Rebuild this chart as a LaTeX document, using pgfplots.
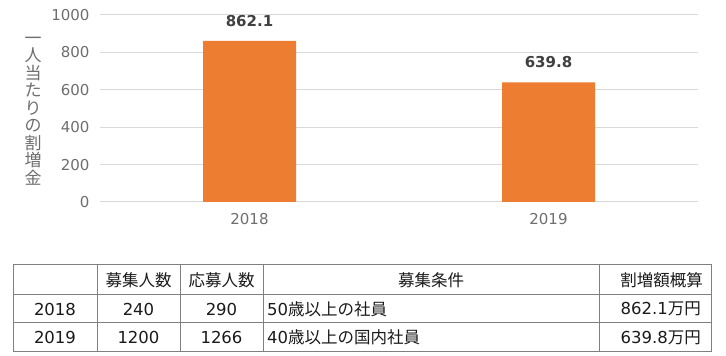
\documentclass[border=0pt]{standalone}
\usepackage{fontspec}
\setmainfont{DejaVu Sans}
\newfontfamily\jp{Noto Sans CJK JP}
\usepackage{pgfplots}
\pgfplotsset{compat=1.18}
\definecolor{barc}{HTML}{ED7D31}
\definecolor{gridc}{HTML}{D9D9D9}
\definecolor{tickc}{HTML}{6E6E6E}
\definecolor{labc}{HTML}{404040}
\definecolor{tablec}{HTML}{808080}
\definecolor{txt}{HTML}{1A1A1A}
\begin{document}
\begin{tikzpicture}[x=1pt,y=1pt]
\useasboundingbox (0,0) rectangle (726,356);
\begin{axis}[
  at={(100pt,154pt)}, anchor=south west,
  scale only axis, width=598pt, height=187pt,
  xmin=-0.5, xmax=1.5, ymin=0, ymax=1000,
  axis line style={draw=none},
  ymajorgrids, grid style={gridc, line width=1pt},
  major tick length=0pt,
  xtick={0,1}, xticklabels={2018,2019},
  ytick={0,200,400,600,800,1000},
  /pgf/number format/assume math mode=true,
  /pgf/number format/1000 sep={},
  tick label style={font=\fontsize{15}{17}\selectfont, text=tickc},
  yticklabel style={xshift=-7pt},
  xticklabel style={yshift=-8pt},
  clip=false,
  ybar, bar width=93pt,
  nodes near coords={\pgfmathprintnumber[fixed,precision=1,fixed zerofill]{\pgfplotspointmeta}},
  nodes near coords style={font=\bfseries\fontsize{15}{17}\selectfont, text=labc, yshift=11pt},
]
\addplot[fill=barc, draw=none] coordinates {(0,862.1) (1,639.8)};
\end{axis}
\node[align=center, font=\jp\fontsize{17}{17.5}\selectfont, text=tickc] at (33,245)
  {一\\人\\当\\た\\り\\の\\割\\増\\金};
% table
\draw[tablec, line width=1pt] (13,4) rectangle (711,91);
\draw[tablec, line width=1pt] (13,61) -- (711,61) (13,33) -- (711,33)
  (97,4) -- (97,91) (180,4) -- (180,91) (263,4) -- (263,91) (599,4) -- (599,91);
\begin{scope}[every node/.style={font=\fontsize{16.5}{18}\selectfont, text=txt, inner sep=0pt}]
\node at (138.5,76) {\jp 募集人数};
\node at (221.5,76) {\jp 応募人数};
\node at (431,76) {\jp 募集条件};
\node[anchor=east] at (703,76) {\jp 割増額概算};
\node at (55,47) {2018};
\node at (138.5,47) {240};
\node at (221.5,47) {290};
\node[anchor=west] at (267,47) {50{\jp 歳以上の社員}};
\node[anchor=east] at (701,47) {862.1{\jp 万円}};
\node at (55,18.5) {2019};
\node at (138.5,18.5) {1200};
\node at (221.5,18.5) {1266};
\node[anchor=west] at (267,18.5) {40{\jp 歳以上の国内社員}};
\node[anchor=east] at (701,18.5) {639.8{\jp 万円}};
\end{scope}
\end{tikzpicture}
\end{document}
